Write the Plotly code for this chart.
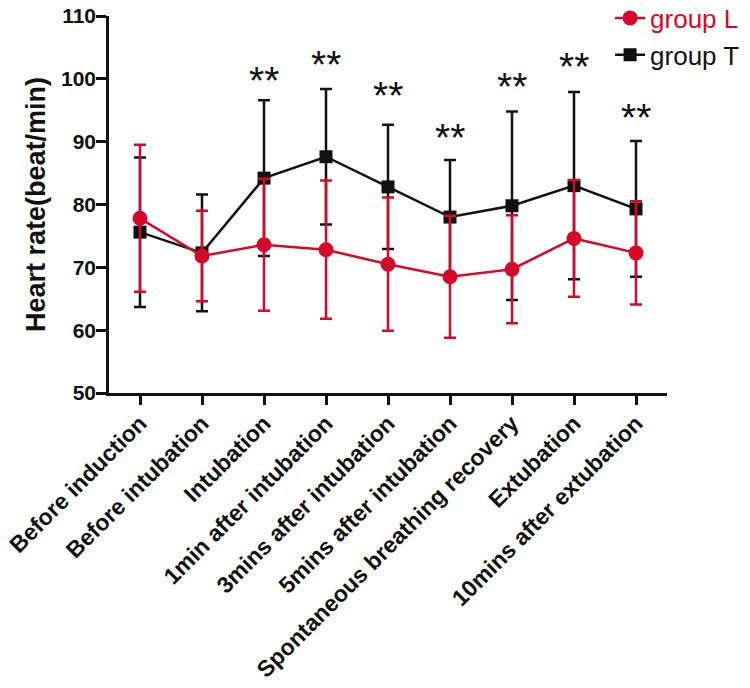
import plotly.graph_objects as go

# time points on the x axis
stages = [
    "Before induction",
    "Before intubation",
    "Intubation",
    "1min after intubation",
    "3mins after intubation",
    "5mins after intubation",
    "Spontaneous breathing recovery",
    "Extubation",
    "10mins after extubation",
]

# group L (red circles): mean and SD
group_l_mean = [77.8, 71.8, 73.6, 72.8, 70.5, 68.5, 69.7, 74.6, 72.3]
group_l_sd = [11.7, 7.2, 10.5, 11.0, 10.6, 9.7, 8.6, 9.3, 8.2]

# group T (black squares): mean and SD
group_t_mean = [75.6, 72.3, 84.2, 87.6, 82.8, 78.0, 79.8, 83.0, 79.3]
group_t_sd = [11.9, 9.3, 12.4, 10.8, 9.9, 9.1, 15.0, 14.9, 10.8]

# significance marks and where they sit
star_stages = [2, 3, 4, 5, 6, 7, 8]
star_labels = ["**"] * 7
star_heights = [100.6, 103.0, 98.2, 91.4, 99.5, 102.8, 94.6]

RED = "#d50a2a"
BLACK = "#111111"
FONT = "Arial"

x_idx = list(range(len(stages)))

fig = go.Figure()
fig.add_trace(
    go.Scatter(
        x=x_idx,
        y=group_t_mean,
        mode="lines+markers",
        name="group T",
        line=dict(color=BLACK, width=2.5),
        marker=dict(symbol="square", size=13, color=BLACK),
        error_y=dict(type="data", array=group_t_sd, color=BLACK, thickness=2.5, width=6),
        legendrank=2,
    )
)
fig.add_trace(
    go.Scatter(
        x=x_idx,
        y=group_l_mean,
        mode="lines+markers",
        name="<span style='color:%s'>group L</span>" % RED,
        line=dict(color=RED, width=2.5),
        marker=dict(symbol="circle", size=15, color=RED),
        error_y=dict(type="data", array=group_l_sd, color=RED, thickness=2.5, width=6),
        legendrank=1,
    )
)

for xi, label, yv in zip(star_stages, star_labels, star_heights):
    fig.add_annotation(
        x=xi, y=yv, text=label, showarrow=False,
        font=dict(family=FONT, size=39, color=BLACK),
        yanchor="middle", yshift=-5,
    )

fig.update_layout(
    width=750,
    height=688,
    margin=dict(l=109, r=83, t=16, b=295, autoexpand=False),
    paper_bgcolor="white",
    plot_bgcolor="white",
    font=dict(family=FONT, color=BLACK),
    showlegend=True,
    legend=dict(
        x=0.898, y=1.057, xanchor="left", yanchor="top",
        font=dict(family=FONT, size=26, color=BLACK),
        bgcolor="rgba(0,0,0,0)",
        tracegroupgap=0,
    ),
    xaxis=dict(
        range=[-0.5, 8.5],
        tickmode="array",
        tickvals=x_idx,
        ticktext=stages,
        tickangle=-45,
        ticks="outside",
        ticklen=9,
        tickwidth=2.5,
        tickcolor=BLACK,
        ticklabelstandoff=-4,
        ticklabeloverflow="allow",
        showline=True,
        linewidth=2.5,
        linecolor=BLACK,
        showgrid=False,
        zeroline=False,
        tickfont=dict(family=FONT, size=23, color=BLACK, weight="bold"),
    ),
    yaxis=dict(
        range=[50, 110],
        tickvals=[50, 60, 70, 80, 90, 100, 110],
        ticks="outside",
        ticklen=10,
        tickwidth=2.5,
        tickcolor=BLACK,
        ticklabelstandoff=-4,
        ticklabeloverflow="allow",
        showline=True,
        linewidth=2.5,
        linecolor=BLACK,
        showgrid=False,
        zeroline=False,
        tickfont=dict(family=FONT, size=21, color=BLACK, weight="bold"),
        title=dict(
            text="Heart rate(beat/min)",
            font=dict(family=FONT, size=27, color=BLACK, weight="bold"),
            standoff=8,
        ),
    ),
)

# drop the default 8px body margin so the figure fills the window exactly
fig.write_html(
    "out.html",
    config={"displayModeBar": False},
    post_script="document.body.style.margin = '0';",
)
